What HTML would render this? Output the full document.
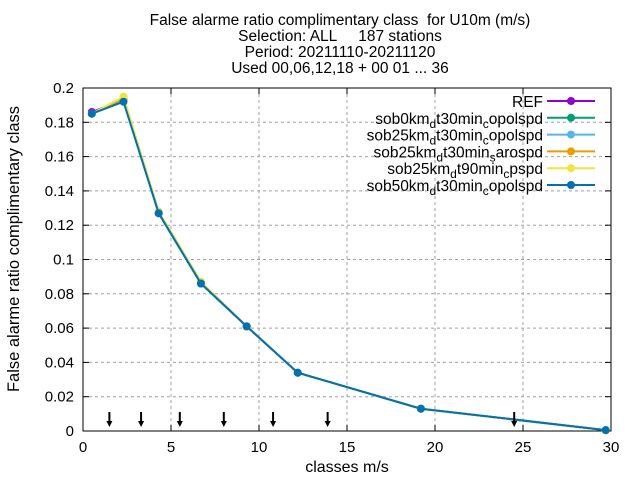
<!DOCTYPE html>
<html><head><meta charset="utf-8"><style>
body{margin:0;background:#fff}
svg text{font-family:"Liberation Sans",sans-serif;fill:#000;white-space:pre}
</style></head><body>
<svg id="chart" width="640" height="480" xmlns="http://www.w3.org/2000/svg">
<g font-size="15.5" text-anchor="middle">
<text x="340" y="25" xml:space="preserve">False alarme ratio complimentary class  for U10m (m/s)</text>
<text x="340" y="41" xml:space="preserve">Selection: ALL     187 stations</text>
<text x="340" y="57">Period: 20211110-20211120</text>
<text x="340" y="73">Used 00,06,12,18 + 00 01 ... 36</text>
</g>
<g id="grid"></g>
<g id="axes"></g>
<g id="series"></g>
<g id="arrows"></g>
<g id="legend"></g>
<text x="347" y="472" font-size="16" text-anchor="middle">classes m/s</text>
<text transform="translate(19,249) rotate(-90)" font-size="16.5" text-anchor="middle">False alarme ratio complimentary class</text>
</svg>
<script>
const xTicks=[0,5,10,15,20,25,30];
const yTicks=[0,0.02,0.04,0.06,0.08,0.1,0.12,0.14,0.16,0.18,0.2];
const yTickLabels=["0","0.02","0.04","0.06","0.08","0.1","0.12","0.14","0.16","0.18","0.2"];
const classX=[0.5,2.3,4.3,6.7,9.3,12.2,19.2,29.7];
const refVals=[0.186,0.193,0.127,0.086,0.061,0.034,0.013,0.0005];
const sob0Vals=[0.185,0.193,0.127,0.086,0.061,0.034,0.013,0.0005];
const sob25cVals=[0.185,0.193,0.127,0.086,0.061,0.034,0.013,0.0005];
const sob25sVals=[0.185,0.194,0.128,0.087,0.061,0.034,0.013,0.0005];
const sob25_90Vals=[0.185,0.195,0.128,0.087,0.061,0.034,0.013,0.0005];
const sob50Vals=[0.185,0.192,0.127,0.086,0.061,0.034,0.013,0.0005];
const arrowX=[1.5,3.3,5.5,8.0,10.8,13.9,24.5];
const seriesNames=["REF","sob0km_dt30min_copolspd","sob25km_dt30min_copolspd","sob25km_dt30min_sarospd","sob25km_dt90min_cpspd","sob50km_dt30min_copolspd"];
const seriesVals=[refVals,sob0Vals,sob25cVals,sob25sVals,sob25_90Vals,sob50Vals];
const colors=["#9400d3","#009e73","#56b4e9","#e69f00","#f0e442","#0072b2"];
const NS="http://www.w3.org/2000/svg";
const X0=83,X1=611,Y0=431,Y1=88;
const sx=v=>X0+(v-0)/30*(X1-X0);
const sy=v=>Y0-(v-0)/0.2*(Y0-Y1);
function mk(tag,at,par){const e=document.createElementNS(NS,tag);for(const k in at)e.setAttribute(k,at[k]);par.appendChild(e);return e;}
const grid=document.getElementById('grid'),axes=document.getElementById('axes');
xTicks.forEach(t=>{
 if(t>0&&t<30){const l=mk('line',{x1:sx(t),x2:sx(t),y1:Y1,y2:Y0,stroke:'#a0a0a0','stroke-dasharray':'3,3'},grid);
 
 }
 mk('line',{x1:sx(t),x2:sx(t),y1:Y0,y2:Y0-6,stroke:'#000'},axes);
 mk('line',{x1:sx(t),x2:sx(t),y1:Y1,y2:Y1+6,stroke:'#000'},axes);
 const tx=mk('text',{x:sx(t),y:Y0+21,'font-size':15,'text-anchor':'middle'},axes);tx.textContent=t;
 
 
});
yTicks.forEach((t,i)=>{
 if(i>0&&i<yTicks.length-1){const l=mk('line',{x1:X0,x2:X1,y1:sy(t),y2:sy(t),stroke:'#a0a0a0','stroke-dasharray':'3,3'},grid);
 
 }
 mk('line',{x1:X0,x2:X0+6,y1:sy(t),y2:sy(t),stroke:'#000'},axes);
 mk('line',{x1:X1,x2:X1-6,y1:sy(t),y2:sy(t),stroke:'#000'},axes);
 const tx=mk('text',{x:X0-9,y:sy(t)+5,'font-size':15,'text-anchor':'end'},axes);tx.textContent=yTickLabels[i];
 
 
});
const fr=mk('rect',{x:X0,y:Y1,width:X1-X0,height:Y0-Y1,fill:'none',stroke:'#000'},axes);


const ser=document.getElementById('series');
seriesVals.forEach((vals,s)=>{
 const g=mk('g',{},ser);
 
 
 mk('polyline',{points:classX.map((x,i)=>sx(x)+','+sy(vals[i])).join(' '),fill:'none',stroke:colors[s],'stroke-width':2},g);
 classX.forEach((x,i)=>{const c=mk('circle',{cx:sx(x),cy:sy(vals[i]),r:4,fill:colors[s]},g);
 
 });
});
const ar=document.getElementById('arrows');
arrowX.forEach(a=>{const g=mk('g',{},ar);
 
 
 mk('line',{x1:sx(a),x2:sx(a),y1:412,y2:423,stroke:'#000','stroke-width':2},g);
 mk('polygon',{points:`${sx(a)-3},421 ${sx(a)+3},421 ${sx(a)},427`,fill:'#000'},g);
});
const lg=document.getElementById('legend');
seriesNames.forEach((n,i)=>{
 const y=101+i*16.8;
 const g=mk('g',{},lg);
 
 
 const t=mk('text',{x:543,y:y+6,'font-size':15.5,'text-anchor':'end'},g);
 const p=n.split('_');
 if(p.length===1)t.textContent=n;else{
  t.appendChild(document.createTextNode(p[0]));
  for(let k=1;k<p.length;k++){
   const sub=mk('tspan',{dy:4,'font-size':12},t);sub.textContent=p[k][0];
   const rest=mk('tspan',{dy:-4},t);rest.textContent=p[k].slice(1);
  }
 }
 mk('line',{x1:547,x2:595,y1:y,y2:y,stroke:colors[i],'stroke-width':2},g);
 mk('circle',{cx:571,cy:y,r:4,fill:colors[i]},g);
});
</script>
</body></html>
